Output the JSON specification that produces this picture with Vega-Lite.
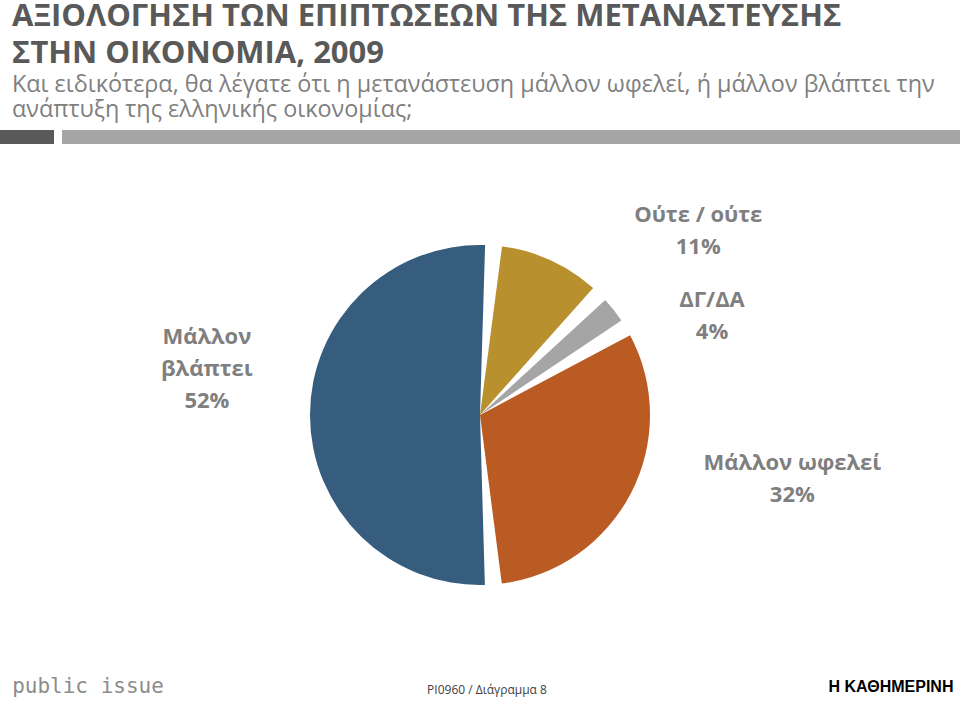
{
  "$schema": "https://vega.github.io/schema/vega-lite/v6.json",
  "padding": 0,
  "background": "white",
  "spacing": 0,
  "config": {"view": {"stroke": null}, "font": "Open Sans"},
  "title": {
    "text": ["ΑΞΙΟΛΟΓΗΣΗ ΤΩΝ ΕΠΙΠΤΩΣΕΩΝ ΤΗΣ ΜΕΤΑΝΑΣΤΕΥΣΗΣ", "ΣΤΗΝ ΟΙΚΟΝΟΜΙΑ, 2009"],
    "subtitle": ["Και ειδικότερα, θα λέγατε ότι η μετανάστευση μάλλον ωφελεί, ή μάλλον βλάπτει την", "ανάπτυξη της ελληνικής οικονομίας;"],
    "anchor": "start",
    "frame": "group",
    "dx": 12,
    "font": "Open Sans",
    "fontSize": 31,
    "fontWeight": "bold",
    "color": "#595959",
    "lineHeight": 37,
    "subtitleFont": "Open Sans",
    "subtitleFontSize": 23.4,
    "subtitleColor": "#7F7F7F",
    "subtitleLineHeight": 25,
    "subtitlePadding": 4,
    "offset": 8
  },
  "vconcat": [
    {
      "spacing": 8,
      "hconcat": [
        {"data": {"values": [{}]}, "mark": {"type": "text", "text": ""}, "width": 54, "height": 14, "view": {"fill": "#595959", "stroke": null}},
        {"data": {"values": [{}]}, "mark": {"type": "text", "text": ""}, "width": 898, "height": 14, "view": {"fill": "#A6A6A6", "stroke": null}}
      ]
    },
    {
      "width": 960,
      "height": 532,
      "data": {"values": [
        {"category": "Ούτε / ούτε", "value": 11},
        {"category": "ΔΓ/ΔΑ", "value": 4},
        {"category": "Μάλλον ωφελεί", "value": 32},
        {"category": "Μάλλον βλάπτει", "value": 52}
      ]},
      "transform": [
        {"window": [{"op": "row_number", "as": "idx"}]},
        {"stack": "value", "groupby": [], "sort": [{"field": "idx", "order": "ascending"}], "as": ["v0", "v1"]}
      ],
      "layer": [
        {
          "mark": {"type": "arc", "outerRadius": 170, "padAngle": 0.1, "yOffset": 5},
          "encoding": {
            "theta": {"field": "v0", "type": "quantitative", "scale": {"domain": [0, 99], "range": [0.08, 6.3632]}},
            "theta2": {"field": "v1"},
            "color": {"field": "category", "type": "nominal", "legend": null,
              "scale": {"domain": ["Ούτε / ούτε", "ΔΓ/ΔΑ", "Μάλλον ωφελεί", "Μάλλον βλάπτει"],
                        "range": ["#B9902E", "#A5A5A5", "#B95B22", "#365D7E"]}}
          }
        },
        {
          "transform": [{"filter": "datum.category === 'Ούτε / ούτε'"}],
          "mark": {"type": "text", "radius": 296, "thetaOffset": 0.749, "yOffset": 5, "fontSize": 22, "fontWeight": "bold", "lineHeight": 32, "align": "center", "baseline": "middle", "color": "#7F7F7F",
                   "text": {"expr": "[datum.category, datum.value + '%']"}},
          "encoding": {"theta": {"field": "v0", "type": "quantitative"}}
        },
        {
          "transform": [{"filter": "datum.category === 'ΔΓ/ΔΑ'"}],
          "mark": {"type": "text", "radius": 259, "thetaOffset": 0.332, "yOffset": 5, "fontSize": 22, "fontWeight": "bold", "lineHeight": 32, "align": "center", "baseline": "middle", "color": "#7F7F7F",
                   "text": {"expr": "[datum.category, datum.value + '%']"}},
          "encoding": {"theta": {"field": "v0", "type": "quantitative"}}
        },
        {
          "transform": [{"filter": "datum.category === 'Μάλλον ωφελεί'"}],
          "mark": {"type": "text", "radius": 316, "thetaOffset": 0.691, "yOffset": 5, "fontSize": 22, "fontWeight": "bold", "lineHeight": 32, "align": "center", "baseline": "middle", "color": "#7F7F7F",
                   "text": {"expr": "[datum.category, datum.value + '%']"}},
          "encoding": {"theta": {"field": "v0", "type": "quantitative"}}
        },
        {
          "transform": [{"filter": "datum.category === 'Μάλλον βλάπτει'"}],
          "mark": {"type": "text", "radius": 284, "thetaOffset": 1.927, "yOffset": 5, "fontSize": 22, "fontWeight": "bold", "lineHeight": 32, "align": "center", "baseline": "middle", "color": "#7F7F7F",
                   "lineBreak": " ", "text": {"expr": "datum.category + ' ' + datum.value + '%'"}},
          "encoding": {"theta": {"field": "v0", "type": "quantitative"}}
        }
      ]
    },
    {
      "spacing": 0,
      "hconcat": [
        {"width": 176, "height": 22, "data": {"values": [{"t": "public issue"}]},
         "mark": {"type": "text", "font": "DejaVu Sans Mono", "fontSize": 21, "color": "#8C8C8C", "baseline": "middle"},
         "encoding": {"text": {"field": "t", "type": "nominal"}}},
        {"width": 622, "height": 22, "data": {"values": [{"t": "PI0960 / Διάγραμμα 8"}]},
         "mark": {"type": "text", "font": "Open Sans", "fontSize": 12, "color": "#404040", "baseline": "middle", "dy": 3},
         "encoding": {"text": {"field": "t", "type": "nominal"}}},
        {"width": 24, "height": 22, "data": {"values": [{}]}, "mark": {"type": "text", "text": ""}},
        {"width": 138, "height": 22, "data": {"values": [{"t": "Η ΚΑΘΗΜΕΡΙΝΗ"}]},
         "mark": {"type": "text", "font": "Liberation Sans", "fontSize": 16, "fontWeight": "bold", "color": "#000000", "baseline": "middle"},
         "encoding": {"text": {"field": "t", "type": "nominal"}}}
      ]
    }
  ]
}
